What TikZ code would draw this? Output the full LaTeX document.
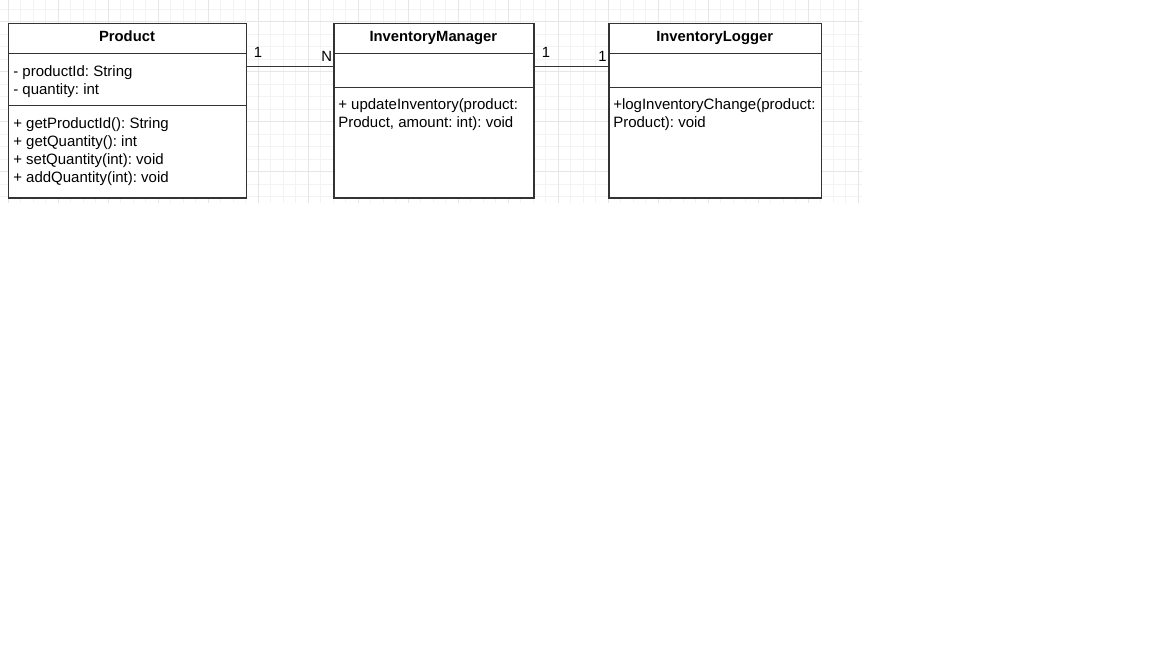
\documentclass[tikz,border=0pt]{standalone}
\usepackage{fontspec}
\setmainfont{Liberation Sans}
\definecolor{boxc}{HTML}{333333}
\definecolor{gridminor}{HTML}{F3F3F3}
\definecolor{gridmajor}{HTML}{E6E6E6}
\begin{document}
\frenchspacing
\begin{tikzpicture}[x=0.75pt,y=-0.75pt,
  box/.style={draw=boxc, line width=1.1pt, inner sep=0pt, anchor=north west},
  sep/.style={draw=boxc, line width=1pt},
  conn/.style={draw=boxc, line width=1pt},
  txt/.style={inner sep=0pt, anchor=base west, font=\fontsize{11.25pt}{13.5pt}\selectfont},
  ttl/.style={inner sep=0pt, anchor=base, font=\fontsize{11.1pt}{13.5pt}\selectfont\bfseries},
  lbl/.style={inner sep=0pt, anchor=center, font=\fontsize{11.1pt}{13.5pt}\selectfont},
  minorline/.style={draw=gridminor, line width=0.75pt},
  majorline/.style={draw=gridmajor, line width=0.75pt}]
\useasboundingbox (0,0) rectangle (1152,648);
\fill[white] (0,0) rectangle (1152,648);
% grid
\foreach \x in {8,20.5,...,859} \draw[minorline] (\x,0) -- (\x,203);
\foreach \y in {9.5,22,...,198} \draw[minorline] (0,\y) -- (862,\y);
\foreach \x in {8,58,...,859} \draw[majorline] (\x,0) -- (\x,203);
\foreach \y in {22,72,...,198} \draw[majorline] (0,\y) -- (862,\y);
% boxes
\node[box, fill=white, minimum width={238*0.75pt}, minimum height={174.3*0.75pt}] (prod) at (8,23) {};
\node[box, fill=white, minimum width={200*0.75pt}, minimum height={174.3*0.75pt}] (im) at (333.3,23) {};
\node[box, fill=white, minimum width={212.7*0.75pt}, minimum height={174.3*0.75pt}] (il) at (608.3,23) {};
% separators
\draw[sep] (8,53.3) -- (246,53.3);
\draw[sep] (8,105.3) -- (246,105.3);
\draw[sep] (333.3,53.3) -- (533.3,53.3);
\draw[sep] (333.3,87.3) -- (533.3,87.3);
\draw[sep] (608.3,53.3) -- (821,53.3);
\draw[sep] (608.3,87.3) -- (821,87.3);
% titles
\node[ttl] (prodt) at (127,41.7) {Product};
\node[ttl] (imt) at (433.3,41.7) {InventoryManager};
\node[ttl] (ilt) at (714.7,41.7) {InventoryLogger};
% Product members
\node[txt] (pa1) at (13,76.5) {- productId: String};
\node[txt] (pa2) at (13,94.5) {- quantity: int};
\node[txt] (pm1) at (13,128.5) {+ getProductId(): String};
\node[txt] (pm2) at (13,146.5) {+ getQuantity(): int};
\node[txt] (pm3) at (13,164.5) {+ setQuantity(int): void};
\node[txt] (pm4) at (13,182.5) {+ addQuantity(int): void};
% InventoryManager members
\node[txt] (im1) at (338,110) {+ updateInventory(product:};
\node[txt] (im2) at (338,128) {Product, amount: int): void};
% InventoryLogger members
\node[txt] (il1) at (613,110) {+logInventoryChange(product:};
\node[txt] (il2) at (613,128) {Product): void};
% connectors
\draw[conn] ([yshift=-32.5pt]prod.north east) -- ([yshift=-32.5pt]im.north west);
\draw[conn] ([yshift=-32.5pt]im.north east) -- ([yshift=-32.5pt]il.north west);
% multiplicities
\node[lbl] (m1) at (258,52) {1};
\node[lbl] (m2) at (326.7,56) {N};
\node[lbl] (m3) at (546,52.5) {1};
\node[lbl] (m4) at (602.5,56) {1};
\end{tikzpicture}
\end{document}
